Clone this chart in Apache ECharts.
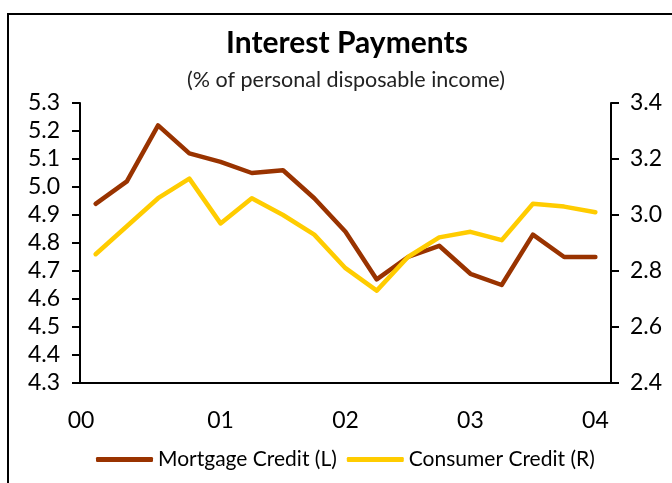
<!DOCTYPE html>
<html>
<head>
<meta charset="utf-8">
<title>Interest Payments</title>
<script src="https://cdn.jsdelivr.net/npm/echarts@6/dist/echarts.min.js"></script>
<style>
  html, body { margin: 0; padding: 0; background: #fff; }
  #chart { width: 672px; height: 483px; }
</style>
</head>
<body>
<div id="chart"></div>
<script>
// Quarterly observations, 2000 Q1 to 2004 Q1
const quarters = [
  '2000Q1', '2000Q2', '2000Q3', '2000Q4',
  '2001Q1', '2001Q2', '2001Q3', '2001Q4',
  '2002Q1', '2002Q2', '2002Q3', '2002Q4',
  '2003Q1', '2003Q2', '2003Q3', '2003Q4',
  '2004Q1'
];
// Year labels shown under the first quarter of each year
const yearLabels = { '2000Q1': '00', '2001Q1': '01', '2002Q1': '02', '2003Q1': '03', '2004Q1': '04' };

// Mortgage credit interest, % of disposable income (left axis)
const mortgageCredit = [
  4.94, 5.02, 5.22, 5.12,
  5.09, 5.05, 5.06, 4.96,
  4.84, 4.67, 4.75, 4.79,
  4.69, 4.65, 4.83, 4.75,
  4.75
];
// Consumer credit interest, % of disposable income (right axis)
const consumerCredit = [
  2.86, 2.96, 3.06, 3.13,
  2.97, 3.06, 3.00, 2.93,
  2.81, 2.73, 2.85, 2.92,
  2.94, 2.91, 3.04, 3.03,
  3.01
];

const FONT = 'Lato';
const INK = '#000';

const chart = echarts.init(document.getElementById('chart'), null, { renderer: 'canvas' });

chart.setOption({
  animation: false,
  backgroundColor: '#fff',
  textStyle: { fontFamily: FONT, color: INK },
  title: [
    {
      text: 'Interest Payments',
      left: 342, top: 23, textAlign: 'center',
      textStyle: { fontFamily: FONT, fontSize: 30, fontWeight: 'bold', color: INK }
    },
    {
      text: '(% of personal disposable income)',
      left: 341, top: 64, textAlign: 'center',
      textStyle: { fontFamily: FONT, fontSize: 21.5, fontWeight: 'normal', color: '#222' }
    }
  ],
  graphic: [
    {
      type: 'rect',
      shape: { x: 8, y: 14, width: 720, height: 520 },
      style: { fill: 'none', stroke: INK, lineWidth: 2 },
      silent: true, z: -1
    }
  ],
  legend: {
    left: 91, top: 444,
    itemWidth: 57, itemHeight: 5, itemGap: 10,
    icon: 'roundRect',
    textStyle: { fontFamily: FONT, fontSize: 21, color: INK },
    data: ['Mortgage Credit (L)', 'Consumer Credit (R)']
  },
  grid: { left: 80, top: 103, width: 531, height: 280, containLabel: false },
  xAxis: {
    type: 'category',
    data: quarters,
    boundaryGap: true,
    axisLine: { lineStyle: { color: INK, width: 2 } },
    axisTick: {
      length: 8,
      lineStyle: { color: INK, width: 2 },
      interval: (i) => i % 4 === 0
    },
    axisLabel: {
      interval: (i) => i % 4 === 0,
      margin: 26,
      fontFamily: FONT, fontSize: 23, color: INK,
      formatter: (v) => v === '2000Q1' ? '{first|' + yearLabels[v] + '}' : yearLabels[v],
      rich: { first: { fontFamily: FONT, fontSize: 23, color: INK, padding: [0, 29, 0, 0] } }
    },
    splitLine: { show: false }
  },
  yAxis: [
    {
      type: 'value', position: 'left',
      min: 4.3, max: 5.3, interval: 0.1,
      axisLine: { show: true, lineStyle: { color: INK, width: 2 } },
      axisTick: { show: true, length: 8, lineStyle: { color: INK, width: 2 } },
      axisLabel: { margin: 20, fontFamily: FONT, fontSize: 23, color: INK, formatter: (v) => v.toFixed(1) },
      splitLine: { show: false }
    },
    {
      type: 'value', position: 'right',
      min: 2.4, max: 3.4, interval: 0.2,
      axisLine: { show: true, lineStyle: { color: INK, width: 2 } },
      axisTick: { show: true, length: 8, lineStyle: { color: INK, width: 2 } },
      axisLabel: { margin: 19, fontFamily: FONT, fontSize: 23, color: INK, formatter: (v) => v.toFixed(1) },
      splitLine: { show: false }
    }
  ],
  series: [
    {
      name: 'Mortgage Credit (L)',
      type: 'line', yAxisIndex: 0,
      data: mortgageCredit,
      showSymbol: false, symbol: 'none',
      lineStyle: { color: '#993300', width: 4.5, cap: 'round', join: 'round' },
      itemStyle: { color: '#993300' }
    },
    {
      name: 'Consumer Credit (R)',
      type: 'line', yAxisIndex: 1,
      data: consumerCredit,
      showSymbol: false, symbol: 'none',
      lineStyle: { color: '#FFCC00', width: 4.5, cap: 'round', join: 'round' },
      itemStyle: { color: '#FFCC00' }
    }
  ]
});
</script>
</body>
</html>
